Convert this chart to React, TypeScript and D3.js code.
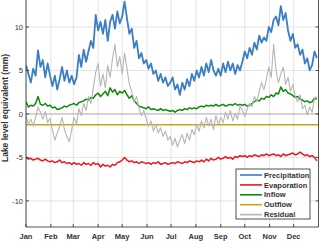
// App.tsx

import React from "react";
import * as d3 from "d3";

// month tick labels and their start day in the year
const monthLabels = ["Jan", "Feb", "Mar", "Apr", "May", "Jun", "Jul", "Aug", "Sep", "Oct", "Nov", "Dec"];
const monthStartDays = [0, 31, 59, 90, 120, 151, 181, 212, 243, 273, 304, 334];
const yTickValues = [-10, -5, 0, 5, 10];

// one sample every 3 days, starting at day 0
const sampleStep = 3;

const precipitation = [
  5.6, 4.6, 3.6, 5.2, 4.4, 7.3, 5.4, 6.2, 4.2, 5.8, 4.4,
  3.2, 4.4, 2.8, 4.0, 5.4, 3.8, 5.0, 3.6, 4.4,
  3.4, 4.2, 6.8, 5.4, 7.4, 6.0, 7.2, 8.4, 7.6, 11.4,
  9.6, 10.6, 9.2, 10.8, 8.4, 10.6, 11.4, 9.8, 11.8, 10.4,
  11.2, 12.9, 11.0, 9.2, 9.8, 7.6, 8.4, 6.4, 7.0, 5.8,
  6.2, 5.2, 5.8, 4.6, 5.0, 3.8, 4.6, 3.6, 4.2, 3.2,
  3.6, 4.2, 2.8, 3.4, 2.2, 3.6, 2.8, 4.0, 3.2, 4.6,
  3.8, 5.0, 4.2, 5.4, 4.4, 5.8, 4.8, 6.2, 5.0, 4.4,
  5.2, 4.4, 5.8, 4.8, 6.0, 5.0, 5.8, 4.6, 5.6, 5.0,
  6.0, 7.2, 6.4, 7.6, 6.8, 8.2, 7.4, 9.0, 8.2, 8.8,
  8.4, 10.0, 9.4, 10.8, 11.2, 10.2, 12.4, 10.8, 11.6, 9.6,
  8.4, 9.2, 7.6, 8.0, 6.8, 7.4, 5.8, 6.4, 5.0, 5.6, 7.2, 6.4,
];

const evaporation = [
  -5.0, -5.2, -5.1, -5.3, -5.2, -5.1, -5.3, -5.4, -5.2, -5.4, -5.5,
  -5.4, -5.6, -5.5, -5.3, -5.6, -5.5, -5.7, -5.6, -5.8,
  -5.6, -5.8, -5.7, -5.9, -5.6, -5.8, -5.7, -5.9, -5.6, -5.8,
  -5.7, -6.1, -5.8, -6.0, -5.9, -6.1, -5.8, -5.9, -5.6, -5.5,
  -5.3, -5.0, -5.3, -5.5, -5.4, -5.6, -5.5, -5.7, -5.5, -5.6,
  -5.7, -5.6, -5.8, -5.6, -5.7, -5.5, -5.8, -5.7, -5.6, -5.8,
  -5.7, -5.6, -5.7, -5.5, -5.6, -5.7, -5.5, -5.6, -5.4, -5.5,
  -5.6, -5.4, -5.5, -5.3, -5.5, -5.2, -5.4, -5.1, -5.3, -5.2,
  -5.0, -5.2, -5.1, -4.9, -5.1, -5.0, -5.2, -4.9, -5.0, -4.8,
  -4.9, -4.8, -5.0, -4.8, -4.9, -4.7, -4.8, -4.9, -4.7, -4.8,
  -4.6, -4.8, -4.7, -4.6, -4.8, -4.7, -4.9, -4.6, -4.8, -4.7,
  -4.6, -4.5, -4.7, -4.6, -4.4, -4.6, -4.8, -4.7, -4.9, -4.8, -5.0, -5.4,
];

const inflow = [
  1.4, 0.8, 1.0, 0.9, 1.2, 2.0, 1.1, 1.0, 1.2, 0.9, 1.0,
  0.7, 0.8, 0.5, 0.6, 0.7, 0.9, 0.8, 1.0, 1.1,
  1.2, 1.0, 1.3, 1.4, 1.5, 1.7, 1.6, 1.9, 1.8, 2.2,
  2.4, 2.0, 2.3, 2.6, 2.1, 3.0, 2.5, 2.8, 2.2, 2.6,
  2.4, 2.7, 2.2, 1.8, 2.1, 1.5, 1.2, 0.9, 0.8, 0.7,
  0.6, 0.8, 0.5, 0.6, 0.5, 0.4, 0.6, 0.4, 0.5, 0.4,
  0.3, 0.4, 0.2, 0.4, 0.5, 0.4, 0.6, 0.5, 0.7, 0.6,
  0.7, 0.6, 0.8, 0.9, 0.8, 1.0, 0.9, 1.0, 0.9, 1.1,
  0.9, 1.0, 1.1, 0.9, 1.0, 1.1, 1.0, 1.2, 1.0, 1.1,
  1.0, 1.1, 0.9, 1.0, 1.2, 1.4, 1.6, 1.5, 1.8, 1.7,
  2.0, 1.9, 2.2, 2.0, 2.4, 2.3, 3.1, 2.6, 2.8, 2.4,
  2.3, 2.1, 1.9, 2.0, 1.7, 1.6, 1.4, 1.5, 1.3, 1.4, 1.8, 1.7,
];

// outflow is flat over the year
const outflow = [-1.25, -1.25];

const residual = [
  -0.2, -1.2, -0.6, -1.4, -0.4, 0.8, 0.2, -0.6, 0.3, -1.0, -0.5,
  -1.9, -3.0, -2.2, -1.4, -0.4, -1.8, -2.6, -3.2, -1.8,
  -0.4, -1.2, 0.6, -0.2, 1.2, 0.4, 2.0, 1.2, 3.0, 4.8,
  5.8, 3.2, 4.6, 3.0, 5.6, 4.2, 6.4, 8.0, 5.4, 6.6,
  4.6, 7.0, 5.2, 3.4, 2.6, 1.4, 2.0, 0.6, -0.2, 0.4,
  -0.6, -1.4, -0.8, -2.0, -1.2, -2.2, -1.6, -2.6, -2.0, -3.0,
  -2.6, -3.6, -2.8, -3.8, -3.0, -2.4, -3.4, -2.2, -3.0, -1.8,
  -2.4, -1.2, -2.0, -0.8, -1.6, -0.4, -1.4, -0.6, -1.8, -0.2,
  -1.2, -0.4, -1.0, 0.2, -0.6, 0.4, -0.8, 0.0, -0.6, 0.9,
  0.4, -0.3, 0.6, 1.2, 0.8, 2.0, 1.4, 2.6, 3.6, 2.8,
  4.0, 5.4, 4.2, 8.0, 5.0, 3.6, 4.6, 5.4, 3.4, 4.2,
  2.6, 3.4, 2.0, 1.4, 2.2, 0.6, 1.0, -0.1, 0.8, 0.2, 1.8, 2.0,
];

const seriesNames = ["Precipitation", "Evaporation", "Inflow", "Outflow", "Residual"];
const seriesColors = ["#3b7ec4", "#e8191c", "#0b8a0b", "#d0a01a", "#b5b5b5"];

const width = 320;
const height = 241;
const margin = { left: 26, right: 1, top: 0, bottom: 14 };
const font = "'Liberation Sans', Arial, sans-serif";

const App: React.FC = () => {
  const x = d3
    .scaleLinear()
    .domain([0, 365])
    .range([margin.left, width - margin.right - 0.5]);
  const y = d3
    .scaleLinear()
    .domain([-13, 13.1])
    .range([height - margin.bottom, margin.top]);

  const line = d3
    .line<number>()
    .x((d, i) => x(i * sampleStep))
    .y((d) => y(d));

  const flatLine = d3
    .line<number>()
    .x((d, i) => x(i === 0 ? 0 : 365))
    .y((d) => y(d));

  const seriesPaths = [
    line(precipitation),
    line(evaporation),
    line(inflow),
    flatLine(outflow),
    line(residual),
  ];
  const seriesWidths = [1.8, 1.5, 1.5, 1.5, 1.1];

  const x0 = x.range()[0];
  const x1 = x.range()[1];
  const yBottom = y.range()[0];

  const legend = { x: 236, y: 169, w: 74, h: 50, row: 9.9 };

  return (
    <svg
      width={width}
      height={height}
      style={{ position: "absolute", left: 0, top: 0, background: "#fff" }}
    >
      <defs>
        <clipPath id="plot-clip">
          <rect x={x0} y={0} width={x1 - x0} height={yBottom} />
        </clipPath>
      </defs>

      {/* grid */}
      {monthStartDays.map((d) => (
        <line key={"vg" + d} x1={x(d)} x2={x(d)} y1={0} y2={yBottom} stroke="#e4e4e4" strokeWidth={1} />
      ))}
      {yTickValues.map((v) => (
        <line key={"hg" + v} x1={x0} x2={x1} y1={y(v)} y2={y(v)} stroke={v === 0 ? "#a8a8a8" : "#e4e4e4"} strokeWidth={1} />
      ))}

      {/* series */}
      <g clipPath="url(#plot-clip)">
        {seriesPaths.map((p, i) => (
          <path
            key={seriesNames[i]}
            d={p || ""}
            fill="none"
            stroke={seriesColors[i]}
            strokeWidth={seriesWidths[i]}
            strokeLinejoin="round"
          />
        ))}
      </g>

      {/* axes frame */}
      <line x1={x0} x2={x0} y1={0} y2={yBottom} stroke="#262626" strokeWidth={0.8} />
      <line x1={x1} x2={x1} y1={0} y2={yBottom} stroke="#262626" strokeWidth={0.8} />
      <line x1={x0} x2={x1} y1={yBottom} y2={yBottom} stroke="#262626" strokeWidth={0.8} />

      {/* y ticks */}
      {yTickValues.map((v) => (
        <g key={"yt" + v}>
          <line x1={x0} x2={x0 + 3} y1={y(v)} y2={y(v)} stroke="#262626" strokeWidth={0.8} />
          <line x1={x1 - 3} x2={x1} y1={y(v)} y2={y(v)} stroke="#262626" strokeWidth={0.8} />
          <text
            x={x0 - 3}
            y={y(v)}
            dy="0.35em"
            textAnchor="end"
            fontFamily={font}
            fontSize={7.5}
            fill="#333"
          >
            {v}
          </text>
        </g>
      ))}

      {/* x ticks */}
      {monthStartDays.map((d, i) => (
        <g key={"xt" + d}>
          <line x1={x(d)} x2={x(d)} y1={yBottom} y2={yBottom - 3} stroke="#262626" strokeWidth={0.8} />
          <text
            x={x(d)}
            y={yBottom + 11.5}
            textAnchor="middle"
            fontFamily={font}
            fontSize={7.5}
            fontWeight="bold"
            fill="#333"
          >
            {monthLabels[i]}
          </text>
        </g>
      ))}

      {/* y label */}
      <text
        transform={`translate(8, ${y(0) - 6}) rotate(-90)`}
        textAnchor="middle"
        fontFamily={font}
        fontSize={8.5}
        fontWeight="bold"
        fill="#333"
      >
        Lake level equivalent (mm)
      </text>

      {/* legend */}
      <rect x={legend.x} y={legend.y} width={legend.w} height={legend.h} fill="#fff" stroke="#262626" strokeWidth={0.8} />
      {seriesNames.map((name, i) => {
        const ry = legend.y + 6 + i * legend.row;
        return (
          <g key={"lg" + name}>
            <line x1={legend.x + 4} x2={legend.x + 26} y1={ry} y2={ry} stroke={seriesColors[i]} strokeWidth={1.6} />
            <text
              x={legend.x + 28}
              y={ry}
              dy="0.35em"
              fontFamily={font}
              fontSize={7.5}
              fontWeight="bold"
              fill="#333"
            >
              {name}
            </text>
          </g>
        );
      })}
    </svg>
  );
};

export default App;
